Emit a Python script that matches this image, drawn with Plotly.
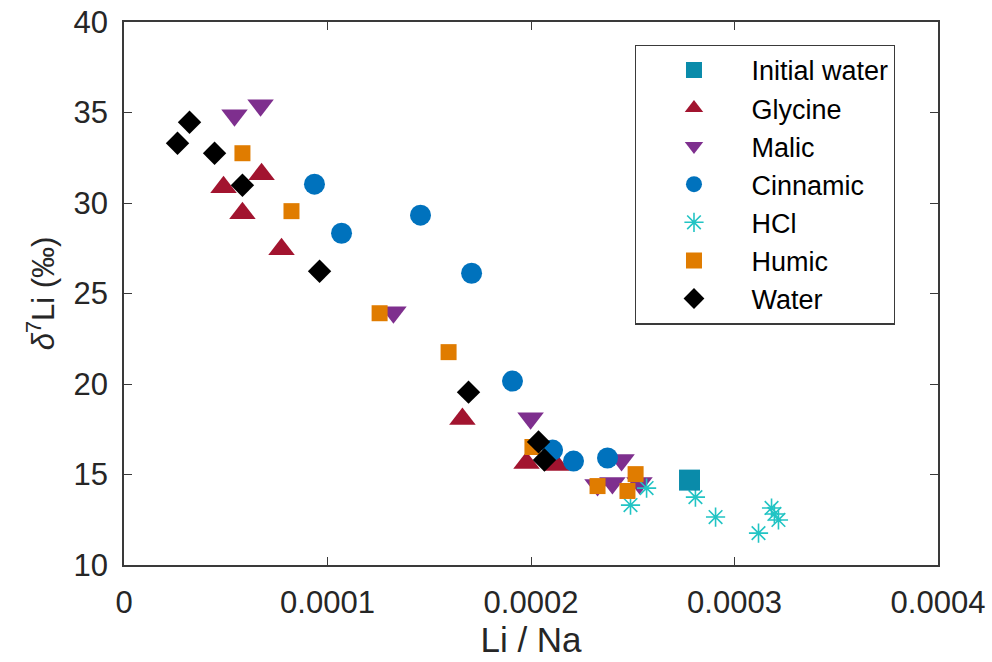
import plotly.graph_objects as go

# Li/Na ratios and delta-7Li (permil) for each leaching solution
initial_x = [2.779e-4]
initial_y = [14.69]

glycine_x = [0.489e-4, 0.582e-4, 0.676e-4, 0.774e-4, 1.663e-4, 1.978e-4, 2.125e-4]
glycine_y = [30.87, 29.44, 31.59, 27.45, 18.06, 15.63, 15.52]

malic_x = [0.543e-4, 0.671e-4, 1.324e-4, 1.998e-4, 2.445e-4, 2.327e-4, 2.400e-4, 2.533e-4]
malic_y = [34.85, 35.40, 23.97, 18.11, 15.80, 14.42, 14.53, 14.53]

cinnamic_x = [0.936e-4, 1.069e-4, 1.457e-4, 1.708e-4, 1.909e-4, 2.106e-4, 2.209e-4, 2.376e-4]
cinnamic_y = [31.04, 28.33, 29.33, 26.12, 20.16, 16.35, 15.74, 15.91]

hcl_x = [2.568e-4, 2.489e-4, 2.808e-4, 2.907e-4, 3.118e-4, 3.182e-4, 3.196e-4, 3.216e-4]
hcl_y = [14.25, 13.31, 13.75, 12.65, 11.76, 13.15, 12.82, 12.49]

humic_x = [0.582e-4, 0.823e-4, 1.256e-4, 1.595e-4, 2.007e-4, 2.327e-4, 2.514e-4, 2.474e-4]
humic_y = [32.75, 29.55, 23.91, 21.76, 16.52, 14.36, 15.02, 14.09]

water_x = [0.263e-4, 0.322e-4, 0.445e-4, 0.582e-4, 0.961e-4, 1.693e-4, 2.037e-4, 2.066e-4]
water_y = [33.30, 34.46, 32.75, 30.98, 26.23, 19.55, 16.80, 15.80]

x_ticks = [0, 0.0001, 0.0002, 0.0003, 0.0004]
x_tick_labels = ["0", "0.0001", "0.0002", "0.0003", "0.0004"]
y_ticks = [10, 15, 20, 25, 30, 35, 40]
y_tick_labels = ["10", "15", "20", "25", "30", "35", "40"]

FONT = "Liberation Sans, Arial, sans-serif"

# (name, x, y, symbol, size, colour, legend rank); drawn in this order
series = [
    ("Glycine", glycine_x, glycine_y, "triangle-up", 23, "#A2142F", 2),
    ("Malic", malic_x, malic_y, "triangle-down", 23, "#7E2F8E", 3),
    ("Cinnamic", cinnamic_x, cinnamic_y, "circle", 21, "#0072BD", 4),
    ("HCl", hcl_x, hcl_y, "asterisk-open", 16, "#22C4C4", 5),
    ("Humic", humic_x, humic_y, "square", 16, "#E07C00", 6),
    ("Water", water_x, water_y, "diamond", 18, "#000000", 7),
    ("Initial water", initial_x, initial_y, "square", 21, "#0A8BAA", 1),
]

fig = go.Figure()
for name, xs, ys, sym, size, color, rank in series:
    if sym.endswith("-open"):
        marker = dict(symbol=sym, size=size, color=color, line=dict(color=color, width=1.6))
    else:
        marker = dict(symbol=sym, size=size, color=color, line=dict(width=0))
    fig.add_trace(go.Scatter(x=xs, y=ys, mode="markers", name=name,
                             marker=marker, legendrank=rank))

axis_common = dict(
    showline=True, linecolor="#3a3a3a", linewidth=1.5, mirror="ticks",
    ticks="inside", ticklen=8, tickwidth=1.3, tickcolor="#3a3a3a",
    showgrid=False, zeroline=False, automargin=False,
)

fig.update_xaxes(
    range=[0, 0.0004], tickvals=x_ticks, ticktext=x_tick_labels,
    tickfont=dict(family=FONT, size=31, color="#262626"),
    ticklabelstandoff=9,
    title=dict(text="Li / Na", font=dict(family=FONT, size=35, color="#262626"), standoff=9),
    **axis_common,
)
fig.update_yaxes(
    range=[10, 40], tickvals=y_ticks, ticktext=y_tick_labels,
    tickfont=dict(family=FONT, size=31, color="#262626"),
    ticklabelstandoff=8,
    title=dict(text="<i>δ</i><sup>7</sup>Li (‰)", font=dict(family=FONT, size=31, color="#262626"), standoff=10),
    **axis_common,
)

fig.update_layout(
    width=992, height=662,
    margin=dict(l=124, r=54, t=22, b=97),
    paper_bgcolor="white", plot_bgcolor="white",
    showlegend=True,
    legend=dict(
        x=0.628, y=0.9585, xanchor="left", yanchor="top",
        bgcolor="white", bordercolor="#3a3a3a", borderwidth=1.3,
        font=dict(family=FONT, size=27, color="#000000"),
        itemwidth=105, tracegroupgap=0,
    ),
)

fig.write_html("out.html")
